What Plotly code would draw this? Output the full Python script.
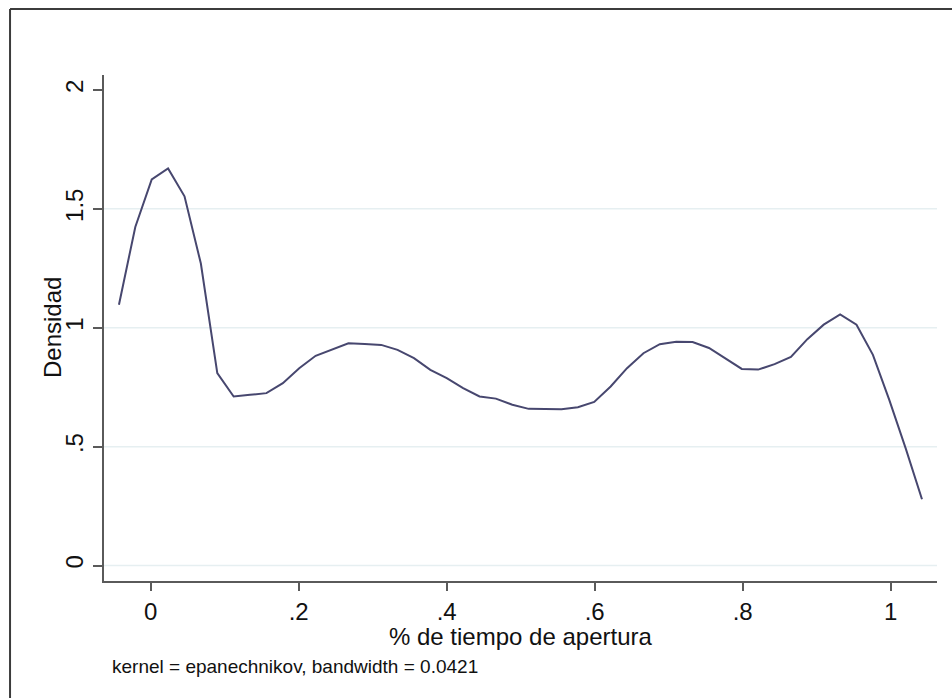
import plotly.graph_objects as go

# Kernel density estimate evaluated on 50 grid points
pct_apertura = [
    -0.0429, -0.0208, 0.0014, 0.0235, 0.0457, 0.0678, 0.0900, 0.1121, 0.1343, 0.1564,
    0.1786, 0.2007, 0.2229, 0.2450, 0.2672, 0.2893, 0.3115, 0.3336, 0.3558, 0.3779,
    0.4001, 0.4222, 0.4444, 0.4665, 0.4887, 0.5108, 0.5330, 0.5551, 0.5773, 0.5994,
    0.6216, 0.6437, 0.6659, 0.6880, 0.7102, 0.7323, 0.7545, 0.7766, 0.7988, 0.8209,
    0.8431, 0.8652, 0.8874, 0.9095, 0.9317, 0.9538, 0.9760, 0.9981, 1.0203, 1.0423,
]
densidad = [
    1.097, 1.424, 1.624, 1.670, 1.553, 1.270, 0.809, 0.711, 0.718, 0.725,
    0.767, 0.830, 0.882, 0.907, 0.935, 0.932, 0.928, 0.907, 0.872, 0.823,
    0.788, 0.746, 0.711, 0.702, 0.676, 0.659, 0.659, 0.657, 0.666, 0.688,
    0.753, 0.830, 0.893, 0.931, 0.941, 0.940, 0.915, 0.872, 0.827, 0.824,
    0.847, 0.877, 0.952, 1.013, 1.056, 1.013, 0.886, 0.697, 0.493, 0.279,
]

x_ticks = [0, 0.2, 0.4, 0.6, 0.8, 1]
x_tick_labels = ["0", ".2", ".4", ".6", ".8", "1"]
y_ticks = [0, 0.5, 1, 1.5, 2]
y_tick_labels = ["0", ".5", "1", "1.5", "2"]
grid_levels = [0, 0.5, 1, 1.5]

x_title = "% de tiempo de apertura"
y_title = "Densidad"
note = "kernel = epanechnikov, bandwidth = 0.0421"

FONT = "Liberation Sans, Arial, sans-serif"
AXIS_COLOR = "#5a5a5a"
TEXT_COLOR = "#111111"

# plot area in pixels: left 104, right 937, top 75, bottom 581
PLOT_W = 833
PLOT_H = 506

fig = go.Figure()

fig.add_trace(go.Scatter(
    x=pct_apertura,
    y=densidad,
    mode="lines",
    line=dict(color="#47476f", width=2),
    showlegend=False,
    hoverinfo="skip",
))

shapes = []
# light horizontal grid lines
for g in grid_levels:
    shapes.append(dict(
        type="line", xref="paper", yref="y", x0=0, x1=1, y0=g, y1=g,
        line=dict(color="#e6eff1", width=1.5), layer="below",
    ))
# outer frame of the graph region (top and left edges visible)
shapes.append(dict(
    type="line", xref="paper", yref="paper", x0=-0.1128, x1=1.2, y0=1.1304, y1=1.1304,
    line=dict(color="#3c3c3c", width=2),
))
shapes.append(dict(
    type="line", xref="paper", yref="paper", x0=-0.1128, x1=-0.1128, y0=1.1304, y1=-0.3,
    line=dict(color="#3c3c3c", width=2),
))

annotations = [
    dict(
        text=x_title, xref="paper", yref="paper",
        x=0.5, y=-(636 - 581) / PLOT_H,
        xanchor="center", yanchor="middle", showarrow=False,
        font=dict(family=FONT, size=24, color=TEXT_COLOR),
    ),
    dict(
        text=y_title, xref="paper", yref="paper",
        x=-(104 - 52) / PLOT_W, y=0.5, textangle=-90,
        xanchor="center", yanchor="middle", showarrow=False,
        font=dict(family=FONT, size=24, color=TEXT_COLOR),
    ),
    dict(
        text=note, xref="paper", yref="paper",
        x=(110 - 104) / PLOT_W, y=-(666 - 581) / PLOT_H,
        xanchor="left", yanchor="middle", showarrow=False,
        font=dict(family=FONT, size=19, color=TEXT_COLOR),
    ),
]

fig.update_layout(
    width=952,
    height=698,
    margin=dict(l=104, r=15, t=75, b=117),
    paper_bgcolor="white",
    plot_bgcolor="white",
    font=dict(family=FONT, color=TEXT_COLOR),
    shapes=shapes,
    annotations=annotations,
    xaxis=dict(
        range=[-0.0631, 1.0626],
        tickvals=x_ticks,
        ticktext=x_tick_labels,
        showgrid=False,
        zeroline=False,
        showline=True,
        linecolor=AXIS_COLOR,
        linewidth=2,
        ticks="outside",
        ticklen=8,
        tickwidth=2,
        tickcolor=AXIS_COLOR,
        tickfont=dict(family=FONT, size=24, color=TEXT_COLOR),
    ),
    yaxis=dict(
        range=[-0.065, 2.063],
        tickvals=y_ticks,
        ticktext=y_tick_labels,
        tickangle=-90,
        showgrid=False,
        zeroline=False,
        showline=True,
        linecolor=AXIS_COLOR,
        linewidth=2,
        ticks="outside",
        ticklen=9,
        tickwidth=2,
        tickcolor=AXIS_COLOR,
        tickfont=dict(family=FONT, size=24, color=TEXT_COLOR),
    ),
)

fig.write_html("out.html")
